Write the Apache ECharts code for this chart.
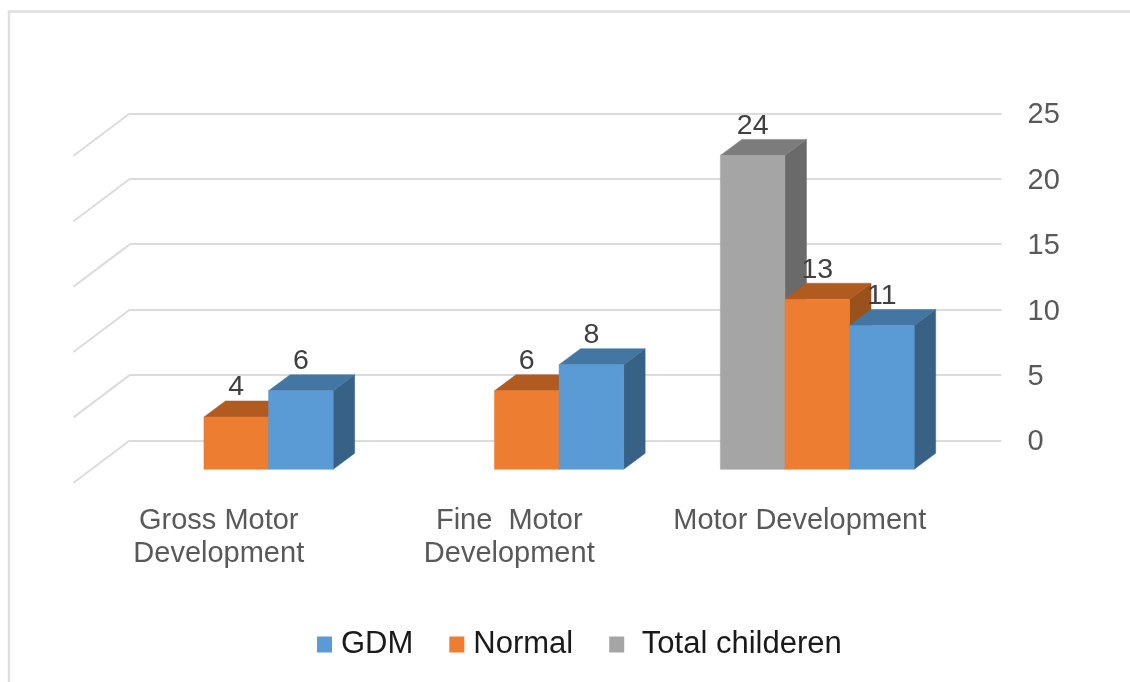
<!DOCTYPE html>
<html>
<head>
<meta charset="utf-8">
<style>html,body{margin:0;padding:0;background:#fff}#c{width:1130px;height:682px}</style>
<script src="https://cdn.jsdelivr.net/npm/echarts@6/dist/echarts.min.js"></script>
</head>
<body>
<div id="c"></div>
<script>
const categories = ['Gross Motor\nDevelopment', 'Fine  Motor\nDevelopment', 'Motor Development'];
const gdm = [6, 8, 11];
const normal = [4, 6, 13];
const totalChildren = [null, null, 24];
const yTicks = [0, 5, 10, 15, 20, 25];

const FONT = '"Liberation Sans", Arial, sans-serif';
const BAR_W = 64.6, DX = 21.5, DY = -16;
const FRONT_X = -39, FRONT_Y = 29;
const WALL_DX = -56.5, WALL_DY = 42.5;

function barSeries(name, values, slot, front, top, side) {
  return {
    name, type: 'custom', coordinateSystem: 'cartesian2d',
    itemStyle: { color: front },
    data: values.map((v, i) => [i, v]),
    encode: { x: 0, y: 1 },
    renderItem(params, api) {
      const v = api.value(1);
      if (v === null || isNaN(v)) return { type: 'group', children: [] };
      const b = api.coord([api.value(0), 0]);
      const t = api.coord([api.value(0), v]);
      const x0 = b[0] + FRONT_X + (slot - 0.5) * BAR_W, x1 = x0 + BAR_W;
      const y0 = b[1] + FRONT_Y, y1 = t[1] + FRONT_Y;
      const poly = (points, fill) => ({ type: 'polygon', shape: { points }, style: { fill, stroke: fill, lineWidth: 0.5 } });
      return {
        type: 'group',
        children: [
          poly([[x1, y1], [x1 + DX, y1 + DY], [x1 + DX, y0 + DY], [x1, y0]], side),
          poly([[x0, y1], [x0 + DX, y1 + DY], [x1 + DX, y1 + DY], [x1, y1]], top),
          poly([[x0, y0], [x0, y1], [x1, y1], [x1, y0]], front),
          { type: 'text', style: { text: String(v), x: (x0 + x1) / 2, y: y1 - 15, fill: '#404040',
              font: '28.5px ' + FONT, textAlign: 'center', textVerticalAlign: 'bottom' } }
        ]
      };
    }
  };
}

const wallSeries = {
  type: 'custom', coordinateSystem: 'cartesian2d', silent: true, legendHoverLink: false,
  data: yTicks.map(v => [0, v]),
  encode: { x: 0, y: 1 },
  renderItem(params, api) {
    const y = api.coord([0, api.value(1)])[1];
    const x = params.coordSys.x;
    return { type: 'line', shape: { x1: x, y1: y, x2: x + WALL_DX, y2: y + WALL_DY },
      style: { stroke: '#dcdcdc', lineWidth: 2 } };
  }
};

const chart = echarts.init(document.getElementById('c'), null, { renderer: 'canvas' });
chart.setOption({
  animation: false,
  backgroundColor: '#fff',
  grid: { left: 130, right: 128.5, top: 113.3, bottom: 241.7, containLabel: false },
  graphic: [
    { type: 'polyline', silent: true, shape: { points: [[9, 682], [9, 11.5], [1130, 11.5]] },
      style: { stroke: '#dedede', lineWidth: 2.5, fill: null } }
  ],
  legend: {
    data: ['GDM', 'Normal', 'Total childeren'],
    left: 312, top: 624, itemWidth: 15, itemHeight: 16, itemGap: 36, icon: 'rect',
    formatter: n => n === 'Total childeren' ? ' ' + n : n,
    textStyle: { fontFamily: FONT, fontSize: 31, color: '#1a1a1a', padding: [0, 0, 0, 4] }
  },
  xAxis: {
    type: 'category',
    data: categories,
    axisLine: { show: false }, axisTick: { show: false },
    axisLabel: { interval: 0, margin: 64, fontFamily: FONT, fontSize: 29, lineHeight: 33, color: '#595959', padding: [0, 113, 0, 0] }
  },
  yAxis: {
    type: 'value', position: 'right', min: 0, max: 25, interval: 5,
    axisLine: { show: false }, axisTick: { show: false },
    axisLabel: {
      margin: 26, formatter: '{a|{value}}',
      rich: { a: { fontFamily: FONT, fontSize: 29, color: '#595959', padding: [4, 0, 0, 0] } }
    },
    splitLine: { show: true, lineStyle: { color: '#dcdcdc', width: 2 } }
  },
  series: [
    wallSeries,
    barSeries('Total childeren', totalChildren, -1, '#a5a5a5', '#7c7c7c', '#6a6a6a'),
    barSeries('Normal', normal, 0, '#ed7d31', '#b25b20', '#9a521c'),
    barSeries('GDM', gdm, 1, '#5b9bd5', '#4476a3', '#386186')
  ]
});
</script>
</body>
</html>
